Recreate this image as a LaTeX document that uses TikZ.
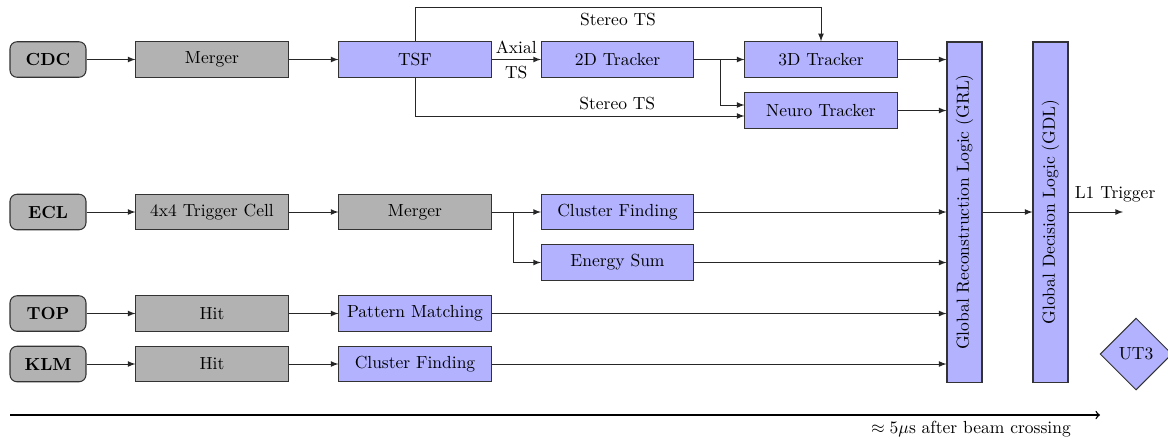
\documentclass[tikz,border=0pt]{standalone}
\usepackage{graphicx}
\usetikzlibrary{shapes.geometric,arrows}
\begin{document}
\begin{tikzpicture}[x=0.5714pt,y=-0.5714pt,
  box/.style={draw=black!80, line width=0.6pt, minimum width=86.9pt, minimum height=20.3pt, inner sep=0pt},
  gbox/.style={box, fill=black!30},
  bbox/.style={box, fill=blue!30},
  det/.style={draw=black!80, line width=0.6pt, fill=black!30, rounded corners=4pt, minimum width=43.4pt, minimum height=20.3pt, inner sep=0pt, font=\bfseries},
  vbox/.style={draw=black!80, line width=0.6pt, fill=blue!30, minimum width=20pt, minimum height=194.3pt, inner sep=0pt},
  arr/.style={-latex, line width=0.5pt, draw=black!85},
  ]
\useasboundingbox (0,0) rectangle (1168,437);

% CDC row
\node[det]  (cdc)     at (48,59.5)    {CDC};
\node[gbox] (cmerger) at (212,59.5)   {Merger};
\node[bbox] (tsf)     at (415,59.5)   {TSF};
\node[bbox] (t2d)     at (617.5,59.5) {2D Tracker};
\node[bbox] (t3d)     at (821,59.5)   {3D Tracker};
\node[bbox] (neuro)   at (821,110.5)  {Neuro Tracker};

% ECL row
\node[det]  (ecl)     at (48,212)     {ECL};
\node[gbox] (cell)    at (212,212)    {4x4 Trigger Cell};
\node[gbox] (emerger) at (415,212)    {Merger};
\node[bbox] (ecf)     at (617.5,212)  {Cluster Finding};
\node[bbox] (esum)    at (617.5,262.5){Energy Sum};

% TOP row
\node[det]  (top)     at (48,313.5)   {TOP};
\node[gbox] (thit)    at (212,313.5)  {Hit};
\node[bbox] (pm)      at (415,313.5)  {Pattern Matching};

% KLM row
\node[det]  (klm)     at (48,364)     {KLM};
\node[gbox] (khit)    at (212,364)    {Hit};
\node[bbox] (kcf)     at (415,364)    {Cluster Finding};

% global logic
\node[vbox] (grl) at (964.5,212) {\rotatebox{90}{Global Reconstruction Logic (GRL)}};
\node[vbox] (gdl) at (1050.5,212) {\rotatebox{90}{Global Decision Logic (GDL)}};
\node[draw=black!80, line width=0.6pt, fill=blue!30, diamond, minimum width=41.1pt, minimum height=41.1pt, inner sep=0pt] (ut3) at (1136,354) {UT3};

\coordinate (l1) at (1123,212);
\coordinate (tstart) at (10,415);
\coordinate (tend) at (1100,415);

% CDC connections
\draw[arr] (cdc) -- (cmerger);
\draw[arr] (cmerger) -- (tsf);
\draw[arr] (tsf) -- node[above]{Axial} node[below]{TS} (t2d);
\draw[arr] (t2d) -- (t3d);
\draw[arr] (t2d.east) -- ++(26,0) |- ([yshift=3.14pt]neuro.west);
\draw[arr] (tsf.north) -- ++(0,-34) -| node[pos=0.25, below]{Stereo TS} (t3d.north);
\draw[arr] (tsf.south) |- node[pos=0.807, above]{Stereo TS} ([yshift=-3.14pt]neuro.west);

% ECL connections
\draw[arr] (ecl) -- (cell);
\draw[arr] (cell) -- (emerger);
\draw[arr] (emerger) -- (ecf);
\draw[arr] (emerger.east) -- ++(22,0) |- (esum.west);

% TOP / KLM
\draw[arr] (top) -- (thit);
\draw[arr] (thit) -- (pm);
\draw[arr] (klm) -- (khit);
\draw[arr] (khit) -- (kcf);

% into GRL
\draw[arr] (t3d) -- (t3d -| grl.west);
\draw[arr] (neuro) -- (neuro -| grl.west);
\draw[arr] (ecf) -- (ecf -| grl.west);
\draw[arr] (esum) -- (esum -| grl.west);
\draw[arr] (pm) -- (pm -| grl.west);
\draw[arr] (kcf) -- (kcf -| grl.west);

\draw[arr] (grl) -- (gdl);
\draw[arr] (gdl.east) -- node[pos=0, anchor=south west, yshift=2.2pt]{L1 Trigger} (l1);

% time axis
\draw[->, thick] (tstart) -- (tend);
\node[anchor=north] (tlabel) at (971,415) {$\approx 5\mu$s after beam crossing};
\end{tikzpicture}
\end{document}
